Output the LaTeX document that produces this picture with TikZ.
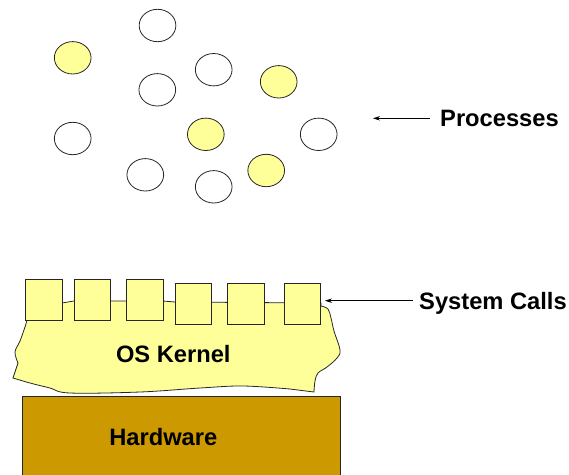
\documentclass[tikz,border=0pt]{standalone}
\usepackage{fontspec}
\setmainfont{Liberation Sans}
\usetikzlibrary{shapes.geometric,arrows.meta}
\definecolor{paleyellow}{HTML}{FFFF99}
\definecolor{hwgold}{HTML}{CC9900}
\begin{document}
\begin{tikzpicture}[x=1pt,y=-1pt,
  proc/.style={ellipse,draw=black!85,line width=0.8pt,minimum width=36.7pt,minimum height=32.4pt,inner sep=0pt},
  yproc/.style={proc,fill=paleyellow},
  wproc/.style={proc,fill=white},
  sysbox/.style={rectangle,draw=black!85,line width=0.8pt,fill=paleyellow,minimum width=36.7pt,minimum height=40.7pt,inner sep=0pt},
  lbl/.style={font=\fontsize{23.7}{28}\selectfont\bfseries,text height=17pt,text depth=0pt,inner ysep=0pt},
  arr/.style={-{Stealth[length=7pt,width=4.5pt]},line width=0.8pt}]
\clip (0,0) rectangle (569,474);
% processes
\node[wproc]  (p1)  at (157.5,25.5) {};
\node[yproc]  (p2)  at (72.7,57.8) {};
\node[wproc]  (p3)  at (213.7,69.7) {};
\node[wproc]  (p4)  at (157.3,89.8) {};
\node[yproc]  (p5)  at (278.7,81.8) {};
\node[wproc]  (p6)  at (72.7,138.5) {};
\node[yproc]  (p7)  at (205.8,134.3) {};
\node[wproc]  (p8)  at (318.7,134.3) {};
\node[wproc]  (p9)  at (145.3,174.8) {};
\node[wproc]  (p10) at (213.7,186.8) {};
\node[yproc]  (p11) at (266.2,170.5) {};
% labels
\node[lbl,anchor=west,inner xsep=10pt] (proclbl) at (430,118.3) {Processes};
\coordinate (proctip) at (373,118.3);
\draw[arr] (proclbl.west) -- (proctip);
% kernel
\draw[draw=black!85,line width=0.8pt,fill=paleyellow]
  (40,303) -- (62,303) -- (74,301) -- (163,301) -- (175,302) -- (321,303)
  -- plot[smooth,tension=0.6] coordinates {(321,306) (328,309) (331,318) (334,331) (340,350) (337,358) (327,367) (318,373) (315,381) (314,392)}
  -- plot[smooth,tension=0.6] coordinates {(290,389) (243,386) (200,388) (140,392) (70,393) (50,388) (30,383) (13,378)}
  -- plot[smooth,tension=0.6] coordinates {(18,363) (15,352) (20,341) (25,327) (27,320)}
  -- cycle;
\node[lbl] (kernel) at (173.3,354) {OS Kernel};
% system calls
\node[sysbox] (sc1) at (44.2,299.7) {};
\node[sysbox] (sc2) at (92.3,299.7) {};
\node[sysbox] (sc3) at (145,299.7) {};
\node[sysbox] (sc4) at (193.3,303.7) {};
\node[sysbox] (sc5) at (246,303.7) {};
\node[sysbox] (sc6) at (302.3,303.7) {};
\node[lbl,anchor=west,inner xsep=6pt] (sclbl) at (413,300.7) {System Calls};
\coordinate (sctip) at (325,300.7);
\draw[arr] (sclbl.west) -- (sctip);
% hardware
\draw[draw=black!85,line width=0.8pt,fill=hwgold] (22.3,396) rectangle (340.7,480);
\node[lbl] (hw) at (163.3,436.7) {Hardware};
\end{tikzpicture}
\end{document}
